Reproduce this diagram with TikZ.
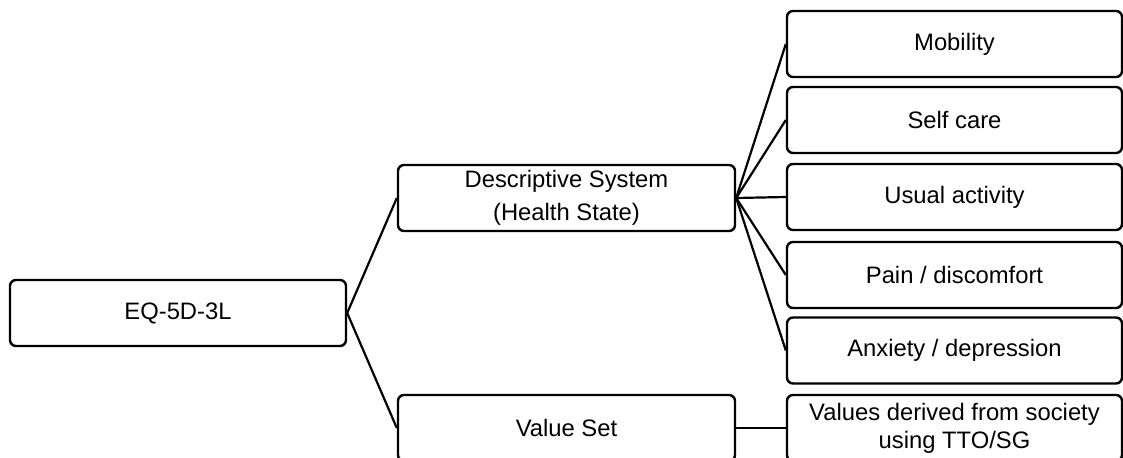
\documentclass[tikz,border=0pt]{standalone}
\usepackage{fontspec}
\setmainfont{Liberation Sans}
\begin{document}
\begin{tikzpicture}[x=0.5pt,y=-0.5pt,
  box/.style={draw, line width=1.2pt, rounded corners=3pt, minimum width=167.5pt,
    minimum height=33pt, align=center, inner sep=0pt,
    font=\fontsize{11.9}{16.5}\selectfont},
  link/.style={line width=1.1pt}]
\useasboundingbox (0,0) rectangle (1123,458);
\clip (0,0) rectangle (1123,458);
\node[box, minimum width=168pt] (eq) at (178,313) {EQ-5D-3L};
\node[box, minimum width=168.5pt] (desc) at (566.5,198) {Descriptive System\\(Health State)};
\node[box, minimum width=168.5pt] (val) at (566.5,428) {Value Set};
\node[box] (mob) at (954.5,44) {Mobility};
\node[box] (self) at (954.5,120) {Self care};
\node[box] (usual) at (954.5,197) {Usual activity};
\node[box] (pain) at (954.5,275) {Pain / discomfort};
\node[box] (anx) at (954.5,350.5) {Anxiety / depression};
\node[box, font=\fontsize{11.9}{14}\selectfont] (vals) at (954.5,428) {Values derived from society\\using TTO/SG};
\draw[link] (eq.east) -- (desc.west);
\draw[link] (eq.east) -- (val.west);
\foreach \n in {mob,self,usual,pain,anx}
  \draw[link] (desc.east) -- (\n.west);
\draw[link] (val.east) -- (vals.west);
\end{tikzpicture}
\end{document}
